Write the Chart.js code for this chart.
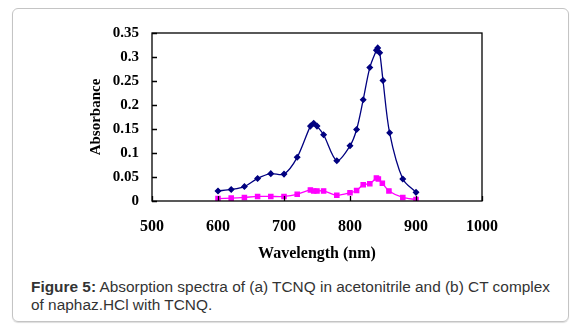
<!DOCTYPE html>
<html>
<head>
<meta charset="utf-8">
<script src="https://cdn.jsdelivr.net/npm/chart.js@4/dist/chart.umd.min.js"></script>
<style>
  body { margin: 0; background: #fff; }
  #wrap { position: relative; width: 586px; height: 333px; overflow: hidden; }
  #frame {
    position: absolute; left: 12px; top: 8px; width: 555px; height: 312px;
    border: 1px solid #c4c4c4; border-radius: 6px; box-shadow: 0 1px 1px #ddd;
  }
  #chartBox { position: absolute; left: 0; top: 0; width: 586px; height: 275px; }
  #caption {
    position: absolute; left: 31px; top: 278px; width: 480px;
    font: 14px "Liberation Sans", Arial, sans-serif; line-height: 18px; color: #333;
    transform: scaleX(1.1); transform-origin: 0 0;
  }
</style>
</head>
<body>
<div id="wrap">
  <div id="frame"></div>
  <div id="chartBox"><canvas id="spectra"></canvas></div>
  <div id="caption"><b>Figure 5:</b> Absorption spectra of (a) TCNQ in acetonitrile and (b) CT complex of naphaz.HCl with TCNQ.</div>
</div>
<script>
// (a) TCNQ in acetonitrile
const tcnqWl = [600, 620, 640, 660, 680, 700, 720, 740, 745, 750, 760, 780, 800, 810, 820, 830, 840, 842, 845, 850, 860, 880, 900];
const tcnqAbs = [0.021, 0.024, 0.030, 0.047, 0.057, 0.056, 0.091, 0.156, 0.162, 0.156, 0.138, 0.084, 0.115, 0.149, 0.211, 0.278, 0.314, 0.319, 0.309, 0.251, 0.142, 0.046, 0.018];

// (b) CT complex of naphaz.HCl with TCNQ
const ctWl = [600, 620, 640, 660, 680, 700, 720, 740, 745, 750, 760, 780, 800, 810, 820, 830, 840, 843, 849, 859, 880, 900];
const ctAbs = [0.005, 0.006, 0.0075, 0.0095, 0.0095, 0.0095, 0.014, 0.023, 0.021, 0.021, 0.021, 0.012, 0.017, 0.022, 0.034, 0.036, 0.048, 0.046, 0.037, 0.021, 0.0075, 0.003];

const serif = "'Liberation Serif', 'Times New Roman', serif";
const xFont = { family: serif, size: 16, weight: 'bold' };
const yFont = { family: serif, size: 15, weight: 'bold' };

// box around the plot area plus short inward tick marks
const frameTicks = {
  id: 'frameTicks',
  afterDraw(chart) {
    const { ctx, chartArea: a, scales: { x, y } } = chart;
    ctx.save();
    ctx.strokeStyle = '#000';
    ctx.lineWidth = 1.3;
    ctx.strokeRect(a.left, a.top, a.right - a.left, a.bottom - a.top);
    ctx.beginPath();
    y.ticks.forEach(t => {
      const py = Math.round(y.getPixelForValue(t.value)) + 0.5;
      ctx.moveTo(a.left, py); ctx.lineTo(a.left + 5, py);
    });
    x.ticks.forEach(t => {
      const px = Math.round(x.getPixelForValue(t.value)) + 0.5;
      ctx.moveTo(px, a.bottom); ctx.lineTo(px, a.bottom - 5);
    });
    ctx.stroke();
    ctx.restore();
  }
};

new Chart(document.getElementById('spectra'), {
  type: 'line',
  data: {
    datasets: [
      {
        label: 'TCNQ',
        data: tcnqWl.map((w, i) => ({ x: w, y: tcnqAbs[i] })),
        borderColor: '#000080',
        backgroundColor: '#000080',
        borderWidth: 1.3,
        pointStyle: 'rectRot',
        pointRadius: 2.6,
        tension: 0.3
      },
      {
        label: 'CT complex',
        data: ctWl.map((w, i) => ({ x: w, y: ctAbs[i] })),
        borderColor: '#ff00ff',
        backgroundColor: '#ff00ff',
        borderWidth: 1.3,
        pointStyle: 'rect',
        pointRadius: 3,
        tension: 0.3
      }
    ]
  },
  options: {
    responsive: true,
    maintainAspectRatio: false,
    animation: false,
    layout: { padding: { top: 33, right: 104, left: 0, bottom: 0 } },
    plugins: { legend: { display: false }, tooltip: { enabled: false } },
    scales: {
      x: {
        type: 'linear', min: 500, max: 1000,
        ticks: { stepSize: 100, color: '#000', font: xFont, padding: 16, maxRotation: 0, callback: v => String(v) },
        grid: { display: false, drawTicks: false },
        border: { display: false },
        title: { display: true, text: 'Wavelength (nm)', color: '#000', font: xFont, padding: { top: 0, bottom: 12 } },
        afterFit(s) { s.height = 74; }
      },
      y: {
        min: 0, max: 0.35,
        ticks: { stepSize: 0.05, color: '#000', font: yFont, padding: 13, callback: v => String(+v.toFixed(2)) },
        grid: { display: false, drawTicks: false },
        border: { display: false },
        title: { display: true, text: 'Absorbance', color: '#000', font: yFont, padding: { top: 87, bottom: 0 } },
        afterFit(s) { s.width = 152; }
      }
    }
  },
  plugins: [frameTicks]
});
</script>
</body>
</html>
